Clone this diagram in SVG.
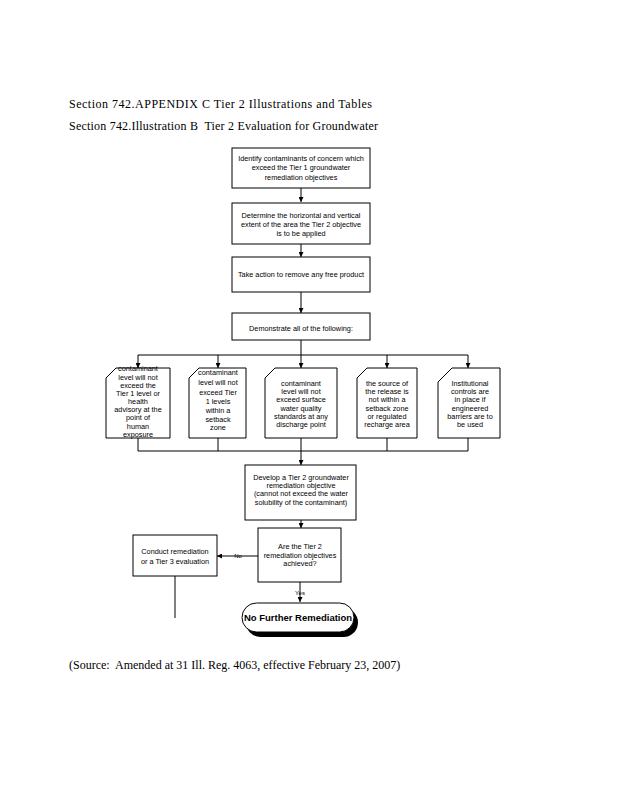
<svg xmlns="http://www.w3.org/2000/svg" width="618" height="800" viewBox="0 0 618 800">
<style>
.bg{fill:#fff}
.box{fill:#fff;stroke:#000;stroke-width:1}
.t{font-family:"Liberation Sans",Arial,sans-serif;font-size:7.3px;fill:#000;text-anchor:middle}
.h{font-family:"Liberation Serif","Times New Roman",serif;font-size:12px;fill:#000;white-space:pre}
.c{fill:none;stroke:#000;stroke-width:1}
.term{font-family:"Liberation Sans",Arial,sans-serif;font-size:9.5px;font-weight:bold;fill:#000;text-anchor:middle}
</style>
<defs>
<marker id="ah" viewBox="0 0 8 8" refX="8" refY="4" markerWidth="5" markerHeight="5" orient="auto" markerUnits="userSpaceOnUse">
<path d="M0,0 L8,4 L0,8 Z" fill="#000"/>
</marker>
</defs>
<rect class="bg" x="0" y="0" width="618" height="800"/>
<text class="h" x="69" y="108" textLength="303" lengthAdjust="spacing">Section 742.APPENDIX C Tier 2 Illustrations and Tables</text>
<text class="h" x="69" y="130" textLength="309" lengthAdjust="spacing">Section 742.Illustration B  Tier 2 Evaluation for Groundwater</text>
<text class="h" x="69" y="669">(Source:  Amended at 31 Ill. Reg. 4063, effective February 23, 2007)</text>

<g id="connectors">
<line class="c" x1="301" y1="188" x2="301" y2="202" marker-end="url(#ah)"/>
<line class="c" x1="301" y1="244" x2="301" y2="257" marker-end="url(#ah)"/>
<line class="c" x1="301" y1="292" x2="301" y2="313" marker-end="url(#ah)"/>
<line class="c" x1="301" y1="340" x2="301" y2="355"/>
<line class="c" x1="138" y1="355" x2="468" y2="355"/>
<line class="c" x1="138" y1="355" x2="138" y2="368" marker-end="url(#ah)"/>
<line class="c" x1="218" y1="355" x2="218" y2="368" marker-end="url(#ah)"/>
<line class="c" x1="301" y1="355" x2="301" y2="368" marker-end="url(#ah)"/>
<line class="c" x1="387" y1="355" x2="387" y2="368" marker-end="url(#ah)"/>
<line class="c" x1="468" y1="355" x2="468" y2="368" marker-end="url(#ah)"/>
<line class="c" x1="138" y1="438" x2="138" y2="451"/>
<line class="c" x1="218" y1="438" x2="218" y2="451"/>
<line class="c" x1="301" y1="438" x2="301" y2="451"/>
<line class="c" x1="387" y1="438" x2="387" y2="451"/>
<line class="c" x1="468" y1="438" x2="468" y2="451"/>
<line class="c" x1="138" y1="451" x2="468" y2="451"/>
<line class="c" x1="301" y1="451" x2="301" y2="465" marker-end="url(#ah)"/>
<line class="c" x1="301" y1="520" x2="301" y2="528" marker-end="url(#ah)"/>
<line class="c" x1="258" y1="556" x2="217" y2="556" marker-end="url(#ah)"/>
<text class="t" x="238" y="558" style="font-size:6px">No</text>
<line class="c" x1="300" y1="582" x2="300" y2="602" marker-end="url(#ah)"/>
<text class="t" x="300" y="595" style="font-size:6px">Yes</text>
<line class="c" x1="175" y1="576" x2="175" y2="618"/>
</g>

<g id="n1">
<rect class="box" x="232" y="148" width="138" height="40"/>
<text class="t" x="301" y="161">Identify contaminants of concern which</text>
<text class="t" x="301" y="170">exceed the Tier 1 groundwater</text>
<text class="t" x="301" y="180">remediation objectives</text>
</g>
<g id="n2">
<rect class="box" x="232" y="203" width="138" height="41"/>
<text class="t" x="301" y="218">Determine the horizontal and vertical</text>
<text class="t" x="301" y="227">extent of the area the Tier 2 objective</text>
<text class="t" x="301" y="236">is to be applied</text>
</g>
<g id="n3">
<rect class="box" x="232" y="257" width="138" height="35"/>
<text class="t" x="301" y="277">Take action to remove any free product</text>
</g>
<g id="n4">
<rect class="box" x="232" y="313" width="138" height="27"/>
<text class="t" x="301" y="331">Demonstrate all of the following:</text>
</g>
<g id="nA">
<path class="box" d="M106,378 L116,368 L170,368 L170,438 L106,438 Z"/>
<text class="t" x="138" y="371">contaminant</text>
<text class="t" x="138" y="379.5">level will not</text>
<text class="t" x="138" y="388">exceed the</text>
<text class="t" x="138" y="396">Tier 1 level or</text>
<text class="t" x="138" y="404">health</text>
<text class="t" x="138" y="412">advisory at the</text>
<text class="t" x="138" y="420">point of</text>
<text class="t" x="138" y="428.5">human</text>
<text class="t" x="138" y="437">exposure</text>
</g>
<g id="nB">
<path class="box" d="M189,378 L199,368 L246,368 L246,438 L189,438 Z"/>
<text class="t" x="218" y="375">contaminant</text>
<text class="t" x="218" y="385">level will not</text>
<text class="t" x="218" y="394.5">exceed Tier</text>
<text class="t" x="218" y="404">1 levels</text>
<text class="t" x="218" y="413">within a</text>
<text class="t" x="218" y="421.5">setback</text>
<text class="t" x="218" y="430">zone</text>
</g>
<g id="nC">
<path class="box" d="M265,378 L275,368 L337,368 L337,438 L265,438 Z"/>
<text class="t" x="301" y="385.5">contaminant</text>
<text class="t" x="301" y="393.5">level will not</text>
<text class="t" x="301" y="402">exceed surface</text>
<text class="t" x="301" y="410.5">water quality</text>
<text class="t" x="301" y="418.5">standards at any</text>
<text class="t" x="301" y="427">discharge point</text>
</g>
<g id="nD">
<path class="box" d="M357,378 L367,368 L417,368 L417,438 L357,438 Z"/>
<text class="t" x="387" y="385.5">the source of</text>
<text class="t" x="387" y="393.5">the release is</text>
<text class="t" x="387" y="402">not within a</text>
<text class="t" x="387" y="410.5">setback zone</text>
<text class="t" x="387" y="418.5">or regulated</text>
<text class="t" x="387" y="427">recharge area</text>
</g>
<g id="nE">
<path class="box" d="M438,382 L452,368 L500,368 L500,438 L438,438 Z"/>
<text class="t" x="470" y="385.5">Institutional</text>
<text class="t" x="470" y="393.5">controls are</text>
<text class="t" x="470" y="402">in place if</text>
<text class="t" x="470" y="410.5">engineered</text>
<text class="t" x="470" y="418.5">barriers are to</text>
<text class="t" x="470" y="427">be used</text>
</g>
<g id="nF">
<rect class="box" x="245" y="465" width="111" height="55"/>
<text class="t" x="301" y="479.5">Develop a Tier 2 groundwater</text>
<text class="t" x="301" y="488">remediation objective</text>
<text class="t" x="301" y="496">(cannot not exceed the water</text>
<text class="t" x="301" y="504.5">solubility of the contaminant)</text>
</g>
<g id="nG">
<rect class="box" x="258" y="528" width="83" height="54"/>
<text class="t" x="300" y="549">Are the Tier 2</text>
<text class="t" x="300" y="558">remediation objectives</text>
<text class="t" x="300" y="566">achieved?</text>
</g>
<g id="nH">
<rect class="box" x="133" y="535" width="84" height="41"/>
<text class="t" x="175" y="553.5">Conduct remediation</text>
<text class="t" x="175" y="563.5">or a Tier 3 evaluation</text>
</g>
<g id="nEnd">
<rect x="246" y="608" width="112" height="29" rx="14.5" ry="14.5" fill="#000"/>
<rect class="box" x="242" y="603" width="112" height="29" rx="14.5" ry="14.5"/>
<text class="term" x="298" y="621">No Further Remediation</text>
</g>
</svg>
